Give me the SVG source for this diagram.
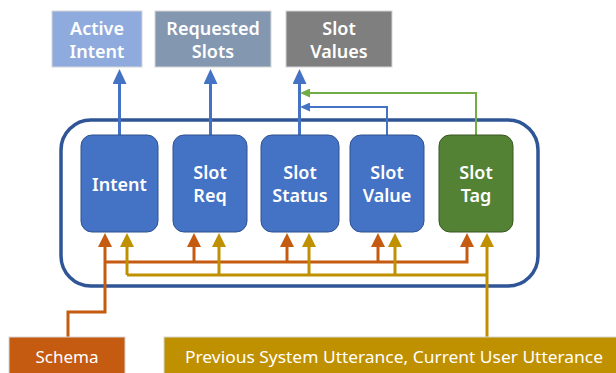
<svg xmlns="http://www.w3.org/2000/svg" width="616" height="373" viewBox="0 0 616 373">
  <style>
    .txt { font-family: "Noto Sans", "Open Sans", sans-serif; fill: #ffffff; text-anchor: middle; }
    .t18 { font-size: 18px; font-weight: 600; }
    .t17 { font-size: 17px; }
    .out { stroke: #d6d6d6; stroke-width: 1; }
    .node { fill: #4472c4; stroke: #2f528f; stroke-width: 1; }
    .blue { stroke: #4472c4; stroke-width: 3; fill: none; }
    .org { stroke: #c55a11; stroke-width: 3; fill: none; }
    .gold { stroke: #bf9000; stroke-width: 3; fill: none; }
    .green { stroke: #70ad47; stroke-width: 2; fill: none; }
    .blue2 { stroke: #4472c4; stroke-width: 2; fill: none; }
  </style>
  <defs>
    <marker id="aBlue" markerUnits="userSpaceOnUse" markerWidth="15" markerHeight="14" viewBox="0 0 15 14" refX="0" refY="7" orient="auto">
      <path d="M0,0 L15,7 L0,14 Z" fill="#4472c4"/>
    </marker>
    <marker id="aOrg" markerUnits="userSpaceOnUse" markerWidth="14" markerHeight="14" viewBox="0 0 14 14" refX="0" refY="7" orient="auto">
      <path d="M0,0 L14,7 L0,14 Z" fill="#c55a11"/>
    </marker>
    <marker id="aGold" markerUnits="userSpaceOnUse" markerWidth="14" markerHeight="14" viewBox="0 0 14 14" refX="0" refY="7" orient="auto">
      <path d="M0,0 L14,7 L0,14 Z" fill="#bf9000"/>
    </marker>
    <marker id="aGreen" markerUnits="userSpaceOnUse" markerWidth="10" markerHeight="9" viewBox="0 0 10 9" refX="0" refY="4.5" orient="auto">
      <path d="M0,0 L10,4.5 L0,9 Z" fill="#70ad47"/>
    </marker>
    <marker id="aBlueS" markerUnits="userSpaceOnUse" markerWidth="10" markerHeight="9" viewBox="0 0 10 9" refX="0" refY="4.5" orient="auto">
      <path d="M0,0 L10,4.5 L0,9 Z" fill="#4472c4"/>
    </marker>
  </defs>

  <!-- container -->
  <rect id="container" x="61" y="120" width="477" height="166" rx="30" ry="30" fill="none" stroke="#2f5597" stroke-width="3.5"/>

  <g id="connectors">
    <path class="blue" d="M119.5,135 V84" marker-end="url(#aBlue)"/>
    <path class="blue" d="M210.5,135 V84" marker-end="url(#aBlue)"/>
    <path class="blue" d="M299.5,135 V84" marker-end="url(#aBlue)"/>
    <path class="green" d="M476,135 V93 H310" marker-end="url(#aGreen)"/>
    <path class="blue2" d="M387,135 V107 H310" marker-end="url(#aBlueS)"/>

    <path class="org" d="M68,337 V312 H105 V247" marker-end="url(#aOrg)"/>
    <path class="org" d="M105,262 H467 V247" marker-end="url(#aOrg)"/>
    <path class="org" d="M194,262 V247" marker-end="url(#aOrg)"/>
    <path class="org" d="M287,262 V247" marker-end="url(#aOrg)"/>
    <path class="org" d="M378,262 V247" marker-end="url(#aOrg)"/>

    <path class="gold" d="M487,337 V247" marker-end="url(#aGold)"/>
    <path class="gold" d="M127,275 H487"/>
    <path class="gold" d="M127,275 V247" marker-end="url(#aGold)"/>
    <path class="gold" d="M219,275 V247" marker-end="url(#aGold)"/>
    <path class="gold" d="M309,275 V247" marker-end="url(#aGold)"/>
    <path class="gold" d="M395,275 V247" marker-end="url(#aGold)"/>
  </g>

  <g id="active-intent">
    <rect class="out" x="52" y="11" width="90" height="56" fill="#8faadc"/>
    <text class="txt t18" x="97" y="35">Active</text>
    <text class="txt t18" x="97" y="58">Intent</text>
  </g>
  <g id="requested-slots">
    <rect class="out" x="155" y="11" width="116" height="56" fill="#8497b0"/>
    <text class="txt t18" x="213" y="35">Requested</text>
    <text class="txt t18" x="213" y="58">Slots</text>
  </g>
  <g id="slot-values">
    <rect class="out" x="286" y="11" width="106" height="56" fill="#7f7f7f"/>
    <text class="txt t18" x="339" y="35">Slot</text>
    <text class="txt t18" x="339" y="58">Values</text>
  </g>

  <g id="intent">
    <rect class="node" x="81" y="135" width="77" height="97" rx="11"/>
    <text class="txt t18" x="119.5" y="191">Intent</text>
  </g>
  <g id="slot-req">
    <rect class="node" x="173" y="135" width="74" height="97" rx="11"/>
    <text class="txt t18" x="210" y="179">Slot</text>
    <text class="txt t18" x="210" y="202">Req</text>
  </g>
  <g id="slot-status">
    <rect class="node" x="261" y="135" width="78" height="97" rx="11"/>
    <text class="txt t18" x="300" y="179">Slot</text>
    <text class="txt t18" x="300" y="202">Status</text>
  </g>
  <g id="slot-value">
    <rect class="node" x="350" y="135" width="74" height="97" rx="11"/>
    <text class="txt t18" x="387" y="179">Slot</text>
    <text class="txt t18" x="387" y="202">Value</text>
  </g>
  <g id="slot-tag">
    <rect x="439" y="135" width="74" height="97" rx="11" fill="#548235" stroke="#385723" stroke-width="1"/>
    <text class="txt t18" x="476" y="179">Slot</text>
    <text class="txt t18" x="476" y="202">Tag</text>
  </g>

  <g id="schema">
    <rect class="out" x="9" y="337" width="116" height="40" fill="#c55a11"/>
    <text class="txt t17" x="67" y="363">Schema</text>
  </g>
  <g id="utterance">
    <rect class="out" x="164" y="337" width="460" height="40" fill="#bf9000"/>
    <text class="txt t17" x="394" y="363" textLength="418" lengthAdjust="spacingAndGlyphs">Previous System Utterance, Current User Utterance</text>
  </g>
</svg>
